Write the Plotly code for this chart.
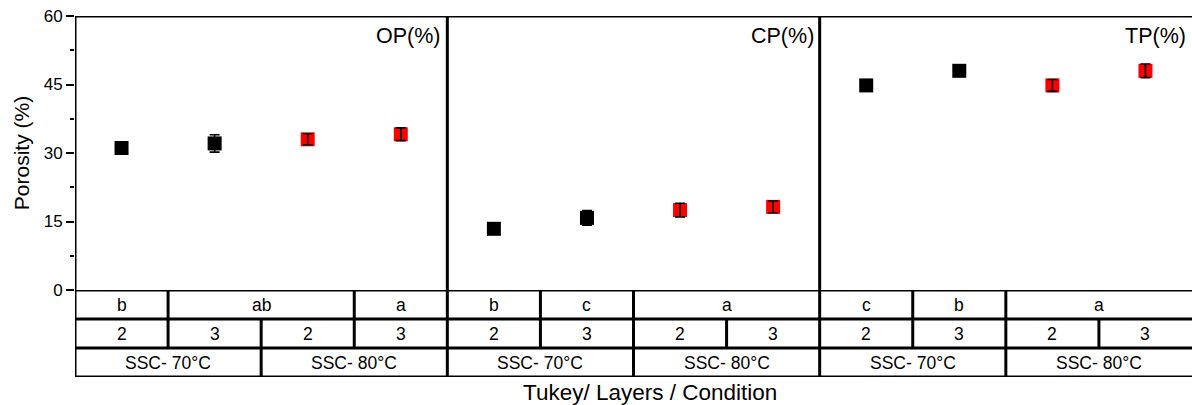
import plotly.graph_objects as go

# Porosity measurements: mean and standard deviation for each layer/condition cell
panels = ["OP(%)", "CP(%)", "TP(%)"]
op_mean = [31.1, 32.1, 33.0, 34.1]
op_err = [0.8, 1.9, 1.2, 1.4]
cp_mean = [13.4, 15.8, 17.5, 18.2]
cp_err = [1.0, 1.6, 1.5, 1.3]
tp_mean = [44.8, 48.0, 44.8, 48.0]
tp_err = [1.0, 1.0, 1.3, 1.5]

layers = ["2", "3", "2", "3"]
conditions = [("SSC- 70°C", 2), ("SSC- 80°C", 2)]
tukey = [
    [("b", 1), ("ab", 2), ("a", 1)],
    [("b", 1), ("c", 1), ("a", 2)],
    [("c", 1), ("b", 1), ("a", 2)],
]
cell_colors = ["black", "black", "red", "red"]

y_ticks = [0, 15, 30, 45, 60]

FONT = "Arial, Liberation Sans, sans-serif"
LW = 3

means = [op_mean, cp_mean, tp_mean]
errs = [op_err, cp_err, tp_err]
n_cells = len(layers)
n_panels = len(panels)

xs, ys, es, cols = [], [], [], []
for p in range(n_panels):
    for i in range(n_cells):
        xs.append(p * n_cells + i + 0.5)
        ys.append(means[p][i])
        es.append(errs[p][i])
        cols.append(cell_colors[i])

fig = go.Figure()
# square markers
fig.add_trace(go.Scatter(
    x=xs, y=ys, mode="markers",
    marker=dict(symbol="square", size=14, color=cols, line=dict(width=0)),
    showlegend=False, hoverinfo="skip",
))
# error bars drawn on top of the markers
fig.add_trace(go.Scatter(
    x=xs, y=ys, mode="markers",
    marker=dict(size=1, color="rgba(0,0,0,0)"),
    error_y=dict(type="data", array=es, visible=True, color="black",
                 thickness=1.6, width=5),
    showlegend=False, hoverinfo="skip",
))

total = n_panels * n_cells
shapes = []

def hline(x0, x1, y, yref):
    shapes.append(dict(type="line", xref="x", yref=yref, x0=x0, x1=x1, y0=y, y1=y,
                       line=dict(color="black", width=LW)))

def vline(x, y0, y1, yref):
    shapes.append(dict(type="line", xref="x", yref=yref, x0=x, x1=x, y0=y0, y1=y1,
                       line=dict(color="black", width=LW)))

# frame: top edge and the table rows
hline(0, total, 60, "y")
for r in range(4):
    hline(0, total, r, "y2")
# full-height left border and panel separators
for p in range(n_panels):
    vline(p * n_cells, 0, 1, "paper")

annotations = []

def cell_text(xc, row, text):
    annotations.append(dict(x=xc, y=row + 0.5, xref="x", yref="y2", text=text,
                            showarrow=False, font=dict(family=FONT, size=17.5, color="black"),
                            xanchor="center", yanchor="middle"))

for p in range(n_panels):
    base = p * n_cells
    # Tukey letters
    pos = base
    for k, (lab, span) in enumerate(tukey[p]):
        if k > 0:
            vline(pos, 0, 1, "y2")
        cell_text(pos + span / 2, 0, lab)
        pos += span
    # layers
    for i, lab in enumerate(layers):
        if i > 0:
            vline(base + i, 1, 2, "y2")
        cell_text(base + i + 0.5, 1, lab)
    # condition
    pos = base
    for k, (lab, span) in enumerate(conditions):
        if k > 0:
            vline(pos, 2, 3, "y2")
        cell_text(pos + span / 2, 2, lab)
        pos += span
    # panel label
    annotations.append(dict(x=base + n_cells, y=1, xref="x", yref="paper", text=panels[p],
                            showarrow=False, xanchor="right", yanchor="middle",
                            xshift=-4, yshift=-20,
                            font=dict(family=FONT, size=21.5, color="black")))

annotations.append(dict(x=total / 2, y=0, xref="x", yref="paper",
                        text="Tukey/ Layers / Condition", showarrow=False,
                        xanchor="center", yanchor="middle", xshift=16, yshift=-15,
                        font=dict(family=FONT, size=22.5, color="black")))

H, W = 405, 1192
top, bottom_px, axis_px = 16, 377, 290
plot_h = bottom_px - top
split = (bottom_px - axis_px) / plot_h

fig.update_layout(
    width=W, height=H,
    margin=dict(l=75, r=0, t=top, b=H - bottom_px),
    paper_bgcolor="white", plot_bgcolor="white",
    xaxis=dict(range=[0, total], visible=False, fixedrange=True),
    yaxis=dict(
        domain=[split, 1], range=[0, 60], tickvals=y_ticks,
        ticks="outside", ticklen=8, tickwidth=1.5, tickcolor="black",
        minor=dict(ticks="outside", ticklen=4, tickwidth=1.5, tickcolor="black", dtick=7.5),
        showgrid=False, zeroline=False, showline=False,
        tickfont=dict(family=FONT, size=17, color="black"),
        title=dict(text="Porosity (%)", standoff=8,
                   font=dict(family=FONT, size=21, color="black")),
    ),
    yaxis2=dict(domain=[0, split], range=[3, 0], visible=False, fixedrange=True),
    shapes=shapes,
    annotations=annotations,
)

fig.write_html("out.html")
